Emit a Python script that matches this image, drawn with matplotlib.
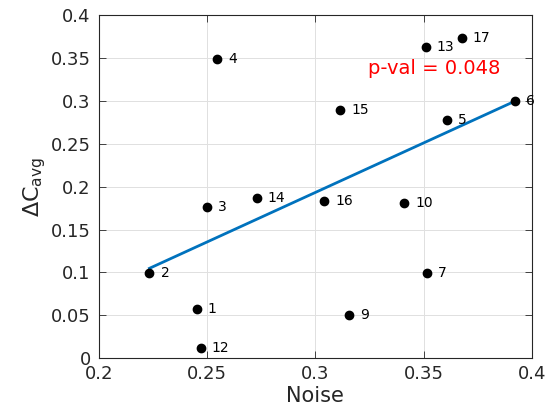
import matplotlib
matplotlib.use("Agg")
import matplotlib.pyplot as plt
import numpy as np

# Noise vs. Delta C_avg per subject (ids 8 and 11 absent)
subject_ids = [1, 2, 3, 4, 5, 6, 7, 9, 10, 12, 13, 14, 15, 16, 17]
noise = [0.2451, 0.2233, 0.2498, 0.2546, 0.3609, 0.3922, 0.3514, 0.3156,
         0.3412, 0.2470, 0.3510, 0.2729, 0.3114, 0.3042, 0.3677]
delta_c = [0.0578, 0.0998, 0.1767, 0.3490, 0.2777, 0.2995, 0.0998, 0.0508,
           0.1814, 0.0124, 0.3628, 0.1865, 0.2897, 0.1833, 0.3730]
p_val = 0.048

plt.rcParams["mathtext.fontset"] = "dejavusans"
plt.rcParams["mathtext.default"] = "regular"

DARK = (0.15, 0.15, 0.15)
BLUE = (0.0, 0.447, 0.741)

fig = plt.figure(figsize=(5.47, 4.16), dpi=100)
ax = fig.add_axes([0.181, 0.1387, 0.791, 0.8253])

x = np.array(noise)
y = np.array(delta_c)
slope, icpt = np.polyfit(x, y, 1)
xl = np.array([x.min(), x.max()])
ax.plot(xl, slope * xl + icpt, color=BLUE, lw=2, zorder=2)
ax.plot(x, y, "o", color="black", ms=6, zorder=3)

for sid, xi, yi in zip(subject_ids, x, y):
    ax.annotate(str(sid), (xi, yi), xytext=(8, 0), textcoords="offset points",
                va="center", ha="left", fontsize=10, color="black")

ax.text(0.3244, 0.338, f"p-val = {p_val:.3f}", color="red", fontsize=14,
        va="center", ha="left")

ax.set_xlim(0.2, 0.4)
ax.set_ylim(0, 0.4)
ax.set_xticks(np.arange(0.2, 0.401, 0.05))
ax.set_yticks(np.arange(0, 0.401, 0.05))
ax.set_xticklabels(["0.2", "0.25", "0.3", "0.35", "0.4"])
ax.set_yticklabels(["0", "0.05", "0.1", "0.15", "0.2", "0.25", "0.3", "0.35", "0.4"])
ax.tick_params(direction="in", top=True, right=True, labelsize=13,
               colors=DARK, length=5, width=0.6)
ax.tick_params(axis="y", pad=6)
ax.tick_params(axis="x", pad=5)
ax.grid(True, color=(0.88, 0.88, 0.88), lw=0.7)
ax.set_axisbelow(True)
for s in ax.spines.values():
    s.set_color(DARK)
    s.set_linewidth(0.8)

ax.set_xlabel("Noise", fontsize=15, color=DARK, labelpad=2)
ax.set_ylabel(r"$\Delta C_{avg}$", fontsize=16, color=DARK, labelpad=2)

fig.savefig("out.png", dpi=100)
